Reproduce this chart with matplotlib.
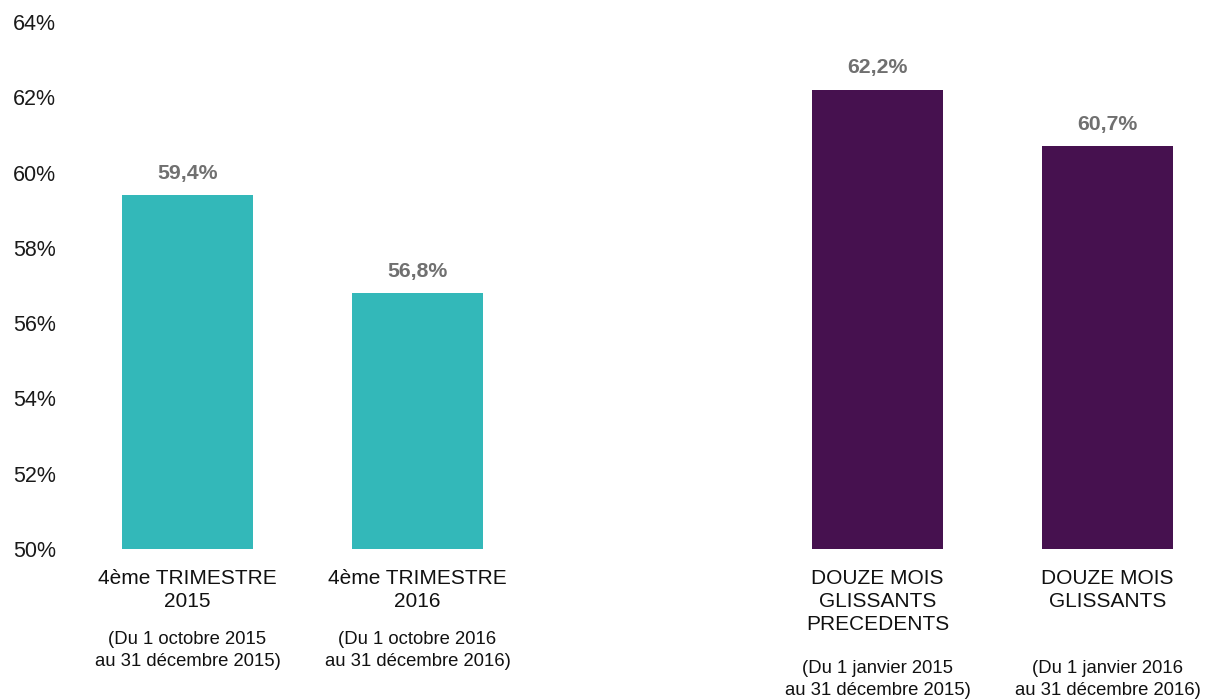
import matplotlib.pyplot as plt
from matplotlib.ticker import FuncFormatter

plt.rcParams['font.family'] = ['Liberation Sans', 'DejaVu Sans']

# data
positions = [0, 1, 3, 4]
values = [59.4, 56.8, 62.2, 60.7]
value_labels = ["59,4%", "56,8%", "62,2%", "60,7%"]
titles = ["4ème TRIMESTRE\n2015", "4ème TRIMESTRE\n2016",
          "DOUZE MOIS\nGLISSANTS\nPRECEDENTS", "DOUZE MOIS\nGLISSANTS"]
subtitles = ["(Du 1 octobre 2015\nau 31 décembre 2015)",
             "(Du 1 octobre 2016\nau 31 décembre 2016)",
             "(Du 1 janvier 2015\nau 31 décembre 2015)",
             "(Du 1 janvier 2016\nau 31 décembre 2016)"]
colors = ["#33B8B9", "#33B8B9", "#46114F", "#46114F"]
y_ticks = [50, 52, 54, 56, 58, 60, 62, 64]

W, H = 1209, 700
fig = plt.figure(figsize=(W / 100, H / 100), dpi=100)
ax = fig.add_axes([72.5 / W, (H - 549) / H, (W - 72.5) / W, (549 - 22) / H])

ax.bar(positions, [v - 50 for v in values], bottom=50, width=0.57, color=colors)
ax.set_xlim(-0.5, (W - 187.5) / 230)
ax.set_ylim(50, 64)
ax.set_yticks(y_ticks)
ax.yaxis.set_major_formatter(FuncFormatter(lambda v, _: f"{v:.0f}%"))
ax.tick_params(axis='y', length=0, pad=12, labelsize=15.5, labelcolor='#1a1a1a')
ax.set_xticks([])
for s in ax.spines.values():
    s.set_visible(False)

for x, v, lab in zip(positions, values, value_labels):
    ax.annotate(lab, (x, v), xytext=(0, 9), textcoords='offset points',
                ha='center', va='bottom', fontsize=15.3, fontweight='bold',
                color='#707070')

# category labels below the axis
sub_y = [637, 637, 666, 666]
for x, t, st, sy in zip(positions, titles, subtitles, sub_y):
    ax.annotate(t, (x, H - 569), xycoords=('data', 'figure pixels'),
                ha='center', va='top', fontsize=15, linespacing=1.25,
                color='#111111')
    ax.annotate(st, (x, H - sy + 6), xycoords=('data', 'figure pixels'),
                ha='center', va='top', fontsize=13.3, linespacing=1.38,
                color='#111111')

fig.savefig("out.png", dpi=100)
